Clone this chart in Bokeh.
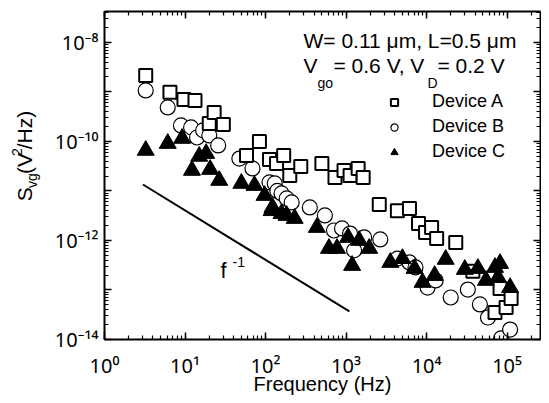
import math
from bokeh.plotting import figure
from bokeh.layouts import row
from bokeh.models import (LogTicker, LogAxis, Label, Legend, LegendItem,
                          Range1d, CustomJSTickFormatter)
from bokeh.core.properties import value
from bokeh.embed import file_html
from bokeh.resources import INLINE

# ---------------- data ----------------
freq_a = [3.25, 6.5, 9.7, 13.3, 20.0, 23.0, 29.9, 58, 84, 112, 137, 168, 200, 274,
          501, 729, 944, 1122, 1413, 1631, 2585, 4340, 6130, 7943, 9716, 11550,
          13340, 23040, 37580, 70790, 81750, 97180, 112200]
svg_a = [2.15e-9, 9.8e-10, 7.05e-10, 6.7e-10, 2.31e-10, 3.85e-10, 2.2e-10, 5.2e-11,
         1.0e-10, 4.33e-11, 3.6e-11, 5.2e-11, 2.06e-11, 3.13e-11, 3.6e-11, 1.87e-11,
         2.6e-11, 2.06e-11, 2.85e-11, 1.87e-11, 5.3e-12, 4.0e-12, 4.43e-12, 2.2e-12,
         1.45e-12, 1.83e-12, 1.1e-12, 9.1e-13, 2.4e-13, 3.5e-14, 1.07e-13, 4.43e-14,
         6.7e-14]

freq_b = [3.25, 6.1, 8.9, 11.9, 14.1, 16.8, 20.0, 25.8, 47.3, 68.8, 112, 130, 140,
          158, 183, 211, 355, 546, 708, 891, 1122, 1259, 1679, 2661, 4340, 6130,
          7286, 10290, 12960, 19950, 32550, 45970, 57880, 84140, 109000]
svg_b = [1.07e-9, 4.86e-10, 2.1e-10, 1.92e-10, 1.2e-10, 1.67e-10, 1.32e-10, 8.3e-11,
         4.5e-11, 2.85e-11, 1.49e-11, 1.42e-11, 1.0e-11, 8.9e-12, 7.05e-12, 5.86e-12,
         4.64e-12, 3.2e-12, 1.59e-12, 1.75e-12, 1.38e-12, 6.3e-13, 1.15e-12, 1.05e-12,
         4.3e-13, 3.6e-13, 2.85e-13, 1.12e-13, 1.56e-13, 7.05e-14, 1.02e-13, 5.1e-14,
         2.78e-14, 1.05e-14, 1.59e-14]

freq_c = [3.25, 6.1, 9.2, 12.2, 15.0, 18.3, 20.5, 26.6, 50.1, 72.9, 97.2, 119, 122,
          158, 183, 230, 434, 613, 772, 1059, 1189, 1454, 1939, 3548, 5012, 7079,
          8913, 12590, 17280, 29850, 43410, 54640, 70790, 77180, 81750, 109000]
svg_c = [6.6e-11, 9.1e-11, 1.15e-10, 2.6e-11, 5.0e-11, 5.7e-11, 2.72e-11, 1.63e-11,
         1.42e-11, 1.29e-11, 8.1e-12, 4.0e-12, 4.64e-12, 3.5e-12, 3.2e-12, 2.78e-12,
         1.83e-12, 6.9e-13, 6.9e-13, 1.15e-12, 3.13e-13, 1.0e-12, 6.9e-13, 3.6e-13,
         4.3e-13, 2.72e-13, 1.42e-13, 1.96e-13, 4.15e-13, 2.6e-13, 2.72e-13, 1.56e-13,
         2.85e-13, 1.79e-13, 3.43e-13, 1.12e-13]

# f^-1 guide line
guide_f = [3.0, 1100.0]
guide_s = [1.35e-11, 3.7e-14]

series_labels = ["Device A", "Device B", "Device C"]
y_tick_exps_shown = [-8, -10, -12, -14]
x_title = "Frequency (Hz)"

FONT = "Liberation Sans"
TICK_FONT = "Noto Sans"

# ---------------- main figure ----------------
p = figure(frame_width=436, frame_height=328, x_axis_type="log", y_axis_type="log",
           x_range=Range1d(1, 2.6e5), y_range=Range1d(1e-14, 4.2e-8),
           output_backend="svg", toolbar_location=None)
p.min_border_left = 56
p.min_border_right = 1
p.min_border_top = 11
p.min_border_bottom = 10
p.grid.visible = False
p.outline_line_color = None
p.background_fill_color = "white"
p.border_fill_color = "white"

SUP_JS = """
const sup = {"-":"\\u207B","0":"\\u2070","1":"\\u00B9","2":"\\u00B2","3":"\\u00B3",
             "4":"\\u2074","5":"\\u2075","6":"\\u2076","7":"\\u2077","8":"\\u2078","9":"\\u2079"};
const e = Math.round(Math.log10(tick));
"""
x_fmt = CustomJSTickFormatter(code=SUP_JS + """
return "10" + String(e).split("").map(c => sup[c]).join("");
""")
y_fmt = CustomJSTickFormatter(args=dict(shown=y_tick_exps_shown), code=SUP_JS + """
if (!shown.includes(e)) { return ""; }
return "10" + String(e).split("").map(c => sup[c]).join("");
""")
blank = CustomJSTickFormatter(code="return ''")


def style_axis(ax):
    ax.ticker = LogTicker(num_minor_ticks=10, mantissas=[1])
    ax.axis_line_width = 2
    ax.axis_line_color = "black"
    ax.major_tick_in = 7
    ax.major_tick_out = 0
    ax.minor_tick_in = 4
    ax.minor_tick_out = 0
    ax.major_tick_line_width = 1.5
    ax.minor_tick_line_width = 1.2
    ax.major_tick_line_color = "black"
    ax.minor_tick_line_color = "black"
    ax.major_label_text_font = TICK_FONT
    ax.major_label_text_font_size = "20px"
    ax.major_label_text_color = "black"


xa = p.xaxis[0]
ya = p.yaxis[0]
style_axis(xa)
style_axis(ya)
xa.formatter = x_fmt
ya.formatter = y_fmt
xa.major_label_standoff = 12
ya.major_label_standoff = 6
xa.axis_label = x_title
xa.axis_label_text_font = FONT
xa.axis_label_text_font_size = "20px"
xa.axis_label_text_font_style = "normal"
xa.axis_label_text_color = "black"
xa.axis_label_standoff = -9

top_ax = LogAxis()
right_ax = LogAxis()
for ax in (top_ax, right_ax):
    style_axis(ax)
    ax.formatter = blank
    ax.major_label_text_font_size = "0px"
    ax.major_label_standoff = 0
p.add_layout(top_ax, "above")
p.add_layout(right_ax, "right")

# ---------------- glyphs ----------------
p.line(guide_f, guide_s, line_color="black", line_width=2)
rb = p.scatter(freq_b, svg_b, marker="circle", size=15, fill_color="white",
               line_color="black", line_width=1.2)
ra = p.scatter(freq_a, svg_a, marker="square", size=13, fill_color="white",
               line_color="black", line_width=2)
rc = p.scatter(freq_c, svg_c, marker="triangle", size=17, fill_color="black",
               line_color="black", line_width=1)

legend = Legend(items=[LegendItem(label=series_labels[0], renderers=[ra]),
                       LegendItem(label=series_labels[1], renderers=[rb]),
                       LegendItem(label=series_labels[2], renderers=[rc])],
                location=(281, 177))
legend.border_line_color = None
legend.background_fill_alpha = 0
legend.label_text_font = FONT
legend.label_text_font_size = "18px"
legend.label_text_color = "black"
legend.glyph_width = 18
legend.glyph_height = 18
legend.label_height = 20
legend.label_standoff = 29
legend.spacing = 4
legend.padding = 0
legend.margin = 0
p.add_layout(legend)


def lab(x, y, text, size, align="left", baseline="middle"):
    p.add_layout(Label(x=x, y=y, x_units="screen", y_units="screen", text=text,
                       text_font=FONT, text_font_size=f"{size}px",
                       text_align=align, text_baseline=baseline,
                       text_color="black"))


# condition annotations
lab(199, 299, "W= 0.11 \u03bcm, L=0.5 \u03bcm", 21)
lab(199, 274, "V", 21)
lab(213, 257, "go", 14)
lab(229, 274, "= 0.6 V, V", 21)
lab(323, 257, "D", 14)
lab(333, 274, "= 0.2 V", 21)

# f^-1 label
lab(119, 69, "f", 22, align="center")
lab(128, 78, "-1", 14)

# ---------------- y-axis title panel ----------------
W1 = 48
H1 = 395
t = figure(width=W1, height=H1, x_range=Range1d(0, W1), y_range=Range1d(H1, 0),
           output_backend="svg", toolbar_location=None,
           x_axis_location=None, y_axis_location=None)
t.min_border = 0
t.grid.visible = False
t.outline_line_color = None
t.background_fill_color = "white"
t.border_fill_color = "white"

ttl_text = ["S", "vg", "(V", "2", "/Hz)"]
ttl_x = [24, 31, 24, 16, 24]
ttl_y = [230, 214, 197, 175, 167]
ttl_size = ["21px", "14px", "21px", "14px", "21px"]
t.text(x=ttl_x, y=ttl_y, text=ttl_text, text_font_size=ttl_size,
       text_font=value(FONT), angle=math.pi / 2, text_align="left",
       text_baseline="middle", text_color="black")

layout = row(t, p)
open("out.html", "w").write(file_html(layout, INLINE))
